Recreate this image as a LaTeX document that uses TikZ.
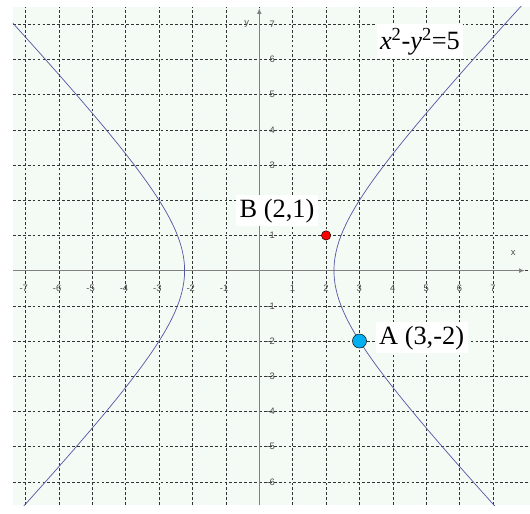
\documentclass[tikz,border=0pt]{standalone}
\usepackage{fontspec}
\setmainfont{Liberation Serif}
\setsansfont{Liberation Sans}
\usetikzlibrary{arrows.meta}
\definecolor{gridbg}{RGB}{244,250,244}
\definecolor{curvecol}{RGB}{85,85,165}
\definecolor{axiscol}{RGB}{128,128,128}
\definecolor{ptAcol}{RGB}{0,176,240}
\newcommand{\bigfont}{\fontsize{22.5}{26}\selectfont}
\newcommand{\tickfont}{\sffamily\fontsize{8}{9}\selectfont}
\newcommand{\xl}{-7.374}
\newcommand{\xr}{8.105}
\newcommand{\yb}{-6.659}
\newcommand{\yt}{7.503}

\begin{document}
\begin{tikzpicture}[x=1.002cm,y=1.056cm]
\tikzstyle{gridline}=[black!80,line width=0.45pt,dash pattern=on 2.4pt off 1.8pt]
\tikzstyle{tick}=[font=\tickfont,text=black!70,inner sep=0pt]
\tikzstyle{lbl}=[font=\bigfont,fill=white,inner xsep=3pt,inner ysep=3pt,anchor=base]
\tikzstyle{pt}=[circle,draw=black,line width=0.4pt,inner sep=0pt]
\useasboundingbox[fill=white] (-7.763,-6.886) rectangle (8.105,7.688);
\fill[gridbg] (\xl,\yb) rectangle (\xr,\yt);
% grid
\foreach \i in {-7,...,7} \draw[gridline] (\i,\yb) -- (\i,\yt);
\foreach \j in {-6,...,7} \draw[gridline] (\xl,\j) -- (\xr,\j);
% axes
\coordinate (xs) at (\xl,0);
\coordinate (xe) at (7.955,0);
\coordinate (ys) at (0,\yb);
\coordinate (ye) at (0,7.46);
\draw[axiscol,line width=1.1pt,-{Latex[length=5pt,width=4pt]}] (xs) -- (xe);
\draw[axiscol,line width=1.1pt,-{Latex[length=5pt,width=4pt]}] (ys) -- (ye);
\node[tick] (xlab) at (7.6,0.5) {x};
\node[tick] (ylab) at (-0.38,7.0) {y};
\foreach \i in {-7,...,-1,1,2,...,7}
  \node[tick,anchor=east] (xt\i) at (\i+0.08,-0.5) {\i};
\foreach \j in {-6,...,-1,1,3,4,...,7}
  \node[tick,anchor=east] (yt\j) at (0.47,\j) {\j};
% hyperbola
\begin{scope}
\clip (\xl,\yb) rectangle (\xr,\yt);
\draw[curvecol,line width=0.6pt] plot[domain=-7:7.8,samples=150,smooth,variable=\t] ({sqrt(5+\t*\t)},\t);
\draw[curvecol,line width=0.6pt] plot[domain=-7:7.8,samples=150,smooth,variable=\t] ({-sqrt(5+\t*\t)},\t);
\end{scope}
% points and labels
\node[pt,fill=red,minimum size=8pt] (B) at (2,1) {};
\node[pt,fill=ptAcol,minimum size=12pt] (A) at (3,-2) {};
\node[lbl] (Blab) at (0.53,1.52) {B (2,1)};
\node[lbl] (Alab) at (4.86,-2.085) {A (3,-2)};
\node[lbl] (eq) at (4.81,6.295) {\textit{x}\textsuperscript{2}-\textit{y}\textsuperscript{2}=5};
\end{tikzpicture}
\end{document}
